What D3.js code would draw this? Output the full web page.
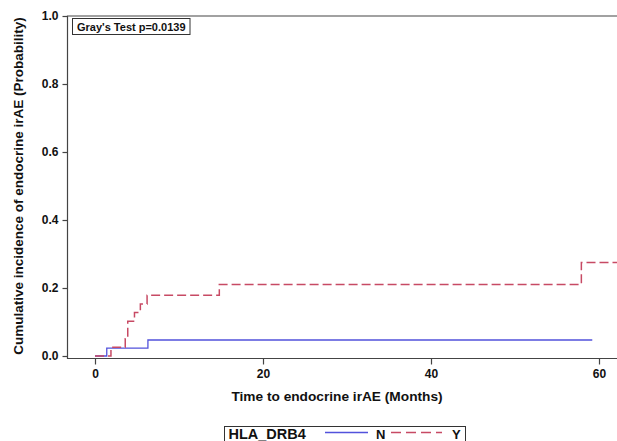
<!DOCTYPE html>
<html><head><meta charset="utf-8">
<script src="https://cdn.jsdelivr.net/npm/d3@7"></script>
<style>body{margin:0;background:#fff}svg{display:block}text{font-family:"Liberation Sans",Arial,sans-serif;fill:#111}</style>
</head><body><svg id="c" width="617" height="441"></svg>
<script>
// Data (months, cumulative incidence)
const timesN = [0, 1.4, 6.3, 59.2];
const cumN   = [0, 0.023, 0.047, 0.047];
const timesY = [0, 1.9, 3.6, 3.9, 4.7, 5.4, 6.2, 14.8, 57.9, 63];
const cumY   = [0, 0.026, 0.051, 0.102, 0.128, 0.153, 0.179, 0.21, 0.275, 0.275];
const xTicks = [0, 20, 40, 60];
const yTicks = [0, 0.2, 0.4, 0.6, 0.8, 1.0];
const groupNames = ["N", "Y"];
const legendTitle = "HLA_DRB4";
const testLabel = "Gray's Test p=0.0139";

const svg = d3.select("#c");
const x = d3.scaleLinear().domain([0, 60]).range([95, 599]);
const y = d3.scaleLinear().domain([0, 1]).range([356, 16]);
const L = 67.5, R = 620, T = 16, B = 358.5;

svg.append("defs").append("clipPath").attr("id","clip")
  .append("rect").attr("x",L).attr("y",T).attr("width",R-L).attr("height",B-T);

// frame
svg.append("path").attr("d",`M${R},${T}H${L}V${B}H${R}`).attr("fill","none").attr("stroke","#444").attr("stroke-width",1.2);

// axes
const xAxis = svg.append("g").attr("transform",`translate(0,${B})`)
  .call(d3.axisBottom(x).tickValues(xTicks).tickSize(6).tickPadding(5).tickFormat(d3.format("d")));
const yAxis = svg.append("g").attr("transform",`translate(${L},0)`)
  .call(d3.axisLeft(y).tickValues(yTicks).tickSize(5).tickPadding(4).tickFormat(d3.format(".1f")));
[xAxis,yAxis].forEach(g=>{
  g.select(".domain").remove();
  g.selectAll(".tick line").attr("stroke","#444").attr("stroke-width",1.2);
  g.selectAll(".tick text").attr("font-size",12).attr("font-weight","bold").attr("fill","#111");
});

// curves
const line = d3.line().x(d=>x(d[0])).y(d=>y(d[1])).curve(d3.curveStepAfter);
const dataN = timesN.map((t,i)=>[t,cumN[i]]);
const dataY = timesY.map((t,i)=>[t,cumY[i]]);
const gC = svg.append("g").attr("clip-path","url(#clip)");
gC.append("path").datum(dataN).attr("d",line).attr("fill","none")
  .attr("stroke","#5252dc").attr("stroke-width",1.3);
gC.append("path").datum(dataY).attr("d",line).attr("fill","none")
  .attr("stroke","#c74a64").attr("stroke-width",1.5).attr("stroke-dasharray","9,4");

// test box
const tb = svg.append("g");
tb.append("rect").attr("x",72.5).attr("y",18.5).attr("width",117.5).attr("height",16)
  .attr("fill","#fff").attr("stroke","#333").attr("stroke-width",1);
tb.append("text").attr("x",77).attr("y",30.5).attr("font-size",11).attr("font-weight","bold").text(testLabel);

// axis titles
svg.append("text").attr("x",337).attr("y",401).attr("text-anchor","middle")
  .attr("font-size",13.7).attr("font-weight","bold").text("Time to endocrine irAE (Months)");
svg.append("text").attr("transform","translate(23,186) rotate(-90)").attr("text-anchor","middle")
  .attr("font-size",13.5).attr("font-weight","bold").text("Cumulative incidence of endocrine irAE (Probability)");

// legend
const lg = svg.append("g");
lg.append("rect").attr("x",224.5).attr("y",426.5).attr("width",241).attr("height",15)
  .attr("fill","#fff").attr("stroke","#333").attr("stroke-width",1);
lg.append("text").attr("x",228.5).attr("y",439).attr("font-size",14.5).attr("font-weight","bold").text(legendTitle);
lg.append("line").attr("x1",325).attr("x2",368).attr("y1",432.5).attr("y2",432.5).attr("stroke","#5252dc").attr("stroke-width",1.3);
lg.append("text").attr("x",376).attr("y",438.5).attr("font-size",13).attr("font-weight","bold").text(groupNames[0]);
lg.append("line").attr("x1",391).attr("x2",442).attr("y1",432.5).attr("y2",432.5).attr("stroke","#c74a64").attr("stroke-width",1.5).attr("stroke-dasharray","10,5");
lg.append("text").attr("x",452).attr("y",438.5).attr("font-size",13).attr("font-weight","bold").text(groupNames[1]);
</script></body></html>
